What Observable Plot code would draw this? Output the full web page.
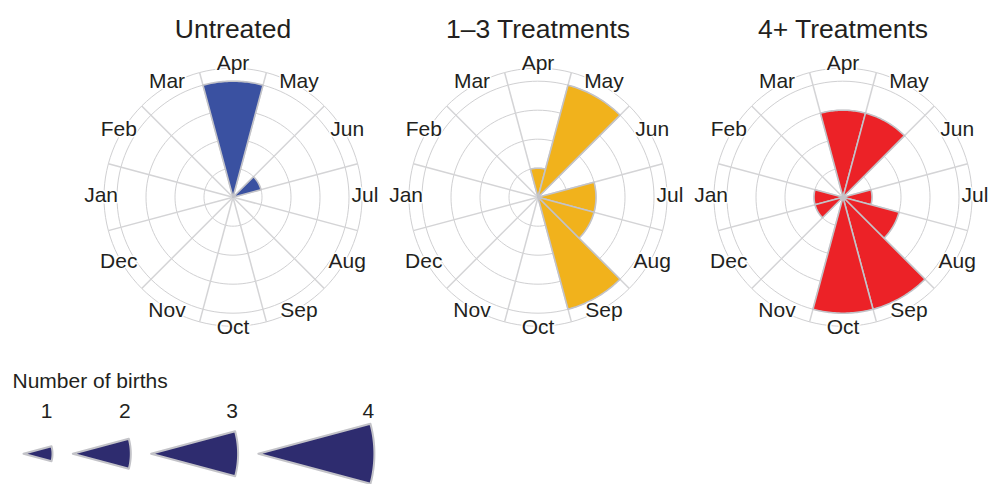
<!DOCTYPE html>
<html>
<head>
<meta charset="utf-8">
<script src="https://cdn.jsdelivr.net/npm/d3@7"></script>
<script src="https://cdn.jsdelivr.net/npm/@observablehq/plot@0.6"></script>
<style>
  html, body { margin: 0; padding: 0; background: #fff; overflow: hidden; }
  #chart svg, #legend svg { display: block; overflow: visible; }
</style>
</head>
<body>
<div id="chart"></div>
<div id="legend"></div>
<script>
// ---- data ----
const months = ["Jan","Feb","Mar","Apr","May","Jun","Jul","Aug","Sep","Oct","Nov","Dec"];
const groups = ["Untreated", "1–3 Treatments", "4+ Treatments"];
const untreated = [0, 0, 0, 4, 0, 1, 0, 0, 0, 0, 0, 0];
const treat1to3 = [0, 0, 0, 1, 4, 0, 2, 2, 4, 0, 0, 0];
const treat4plus = [1, 0, 0, 3, 3, 0, 1, 2, 4, 4, 0, 1];
const groupColors = ["#3a51a1", "#f1b21c", "#ec2227"];
const ringValues = [1, 2, 3, 4];
const legendCounts = [1, 2, 3, 4];

// ---- geometry helpers (data units = number of births) ----
const unit = 29;            // px per birth
const outerR = 4.45;        // outer grid ring
const labelR = 4.55;        // month label radius
const rad = Math.PI / 180;
const angleOf = i => (i - 3) * 30 * rad;   // Apr at top, clockwise

const series = [untreated, treat1to3, treat4plus];
const wedgePts = [];
series.forEach((vals, g) => {
  vals.forEach((c, i) => {
    if (!c) return;
    const id = groups[g] + "-" + i;
    const a0 = angleOf(i) - 15 * rad, a1 = angleOf(i) + 15 * rad;
    wedgePts.push({group: groups[g], id, x: 0, y: 0});
    const n = 30;
    for (let k = 0; k <= n; ++k) {
      const a = a0 + (a1 - a0) * k / n;
      wedgePts.push({group: groups[g], id, x: c * Math.sin(a), y: c * Math.cos(a)});
    }
  });
});

const ringPts = [];
[...ringValues, outerR].forEach(r => {
  const n = 120;
  for (let k = 0; k < n; ++k) {
    const a = 2 * Math.PI * k / n;
    ringPts.push({r, x: r * Math.sin(a), y: r * Math.cos(a)});
  }
});

const spokes = months.map((m, i) => ({a: angleOf(i) + 15 * rad}));
const monthLabels = months.map((m, i) => ({m, a: angleOf(i)}));

// ---- layout ----
const W = 988, H = 350, ml = 73;
const step = (W - ml) / 3;
const c0 = 232.5 - ml;
const cy = 196.7;
const font = "'Liberation Sans', Arial, Helvetica, sans-serif";

const chart = Plot.plot({
  width: W, height: H,
  marginLeft: ml, marginRight: 0, marginTop: 0, marginBottom: 0,
  style: {fontFamily: font, fontSize: "21px", color: "#231f20", background: "transparent"},
  fx: {domain: groups, padding: 0, axis: null},
  x: {domain: [-c0 / unit, (step - c0) / unit], axis: null},
  y: {domain: [-(H - cy) / unit, cy / unit], axis: null},
  color: {domain: groups, range: groupColors},
  marks: [
    Plot.line(ringPts, {x: "x", y: "y", z: "r", curve: "linear-closed", stroke: "#d0d0d2", strokeWidth: 1}),
    Plot.link(spokes, {x1: () => 0, y1: () => 0, x2: d => outerR * Math.sin(d.a), y2: d => outerR * Math.cos(d.a), stroke: "#d4d4d6", strokeWidth: 1.5}),
    Plot.line(wedgePts, {fx: "group", x: "x", y: "y", z: "id", curve: "linear-closed", fill: "group", stroke: "#c3c3c8", strokeWidth: 1.6, strokeLinejoin: "round"}),
    Plot.text(monthLabels, {x: d => labelR * Math.sin(d.a), y: d => labelR * Math.cos(d.a), text: "m", fontSize: 21, dy: -1.5, stroke: "white", strokeWidth: 3, fill: "#231f20"}),
    Plot.text(groups, {fx: d => d, x: () => 0, frameAnchor: "top", dy: 19, text: d => d, fontSize: 26.5, fill: "#231f20"})
  ]
});
document.getElementById("chart").appendChild(chart);

// ---- legend ----
const LW = 400, LH = 134, ly = 103.3;
const apex0 = 23 / unit, gap = 0.7;
const apexOf = c => apex0 + legendCounts.filter(v => v < c).reduce((s, v) => s + v + gap, 0);
const legendPts = [];
legendCounts.forEach(c => {
  const x0 = apexOf(c);
  legendPts.push({c, x: x0, y: 0});
  const n = 30;
  for (let k = 0; k <= n; ++k) {
    const a = (-15 + 30 * k / n) * rad;
    legendPts.push({c, x: x0 + c * Math.cos(a), y: c * Math.sin(a)});
  }
});

const legend = Plot.plot({
  width: LW, height: LH, margin: 0,
  style: {fontFamily: font, fontSize: "21px", color: "#231f20", background: "transparent"},
  x: {domain: [0, LW / unit], axis: null},
  y: {domain: [-(LH - ly) / unit, ly / unit], axis: null},
  marks: [
    Plot.line(legendPts, {x: "x", y: "y", z: "c", curve: "linear-closed", fill: "#2e2c6f", stroke: "#c3c3c8", strokeWidth: 2, strokeLinejoin: "round"}),
    Plot.text(legendCounts, {x: c => apexOf(c) + c, y: () => 0, dx: -6, dy: -43, text: c => String(c), fontSize: 21, fill: "#231f20"}),
    Plot.text(["Number of births"], {frameAnchor: "top-left", dx: 12, dy: 23, text: d => d, textAnchor: "start", fontSize: 21, fill: "#231f20"})
  ]
});
document.getElementById("legend").appendChild(legend);
</script>
</body>
</html>
